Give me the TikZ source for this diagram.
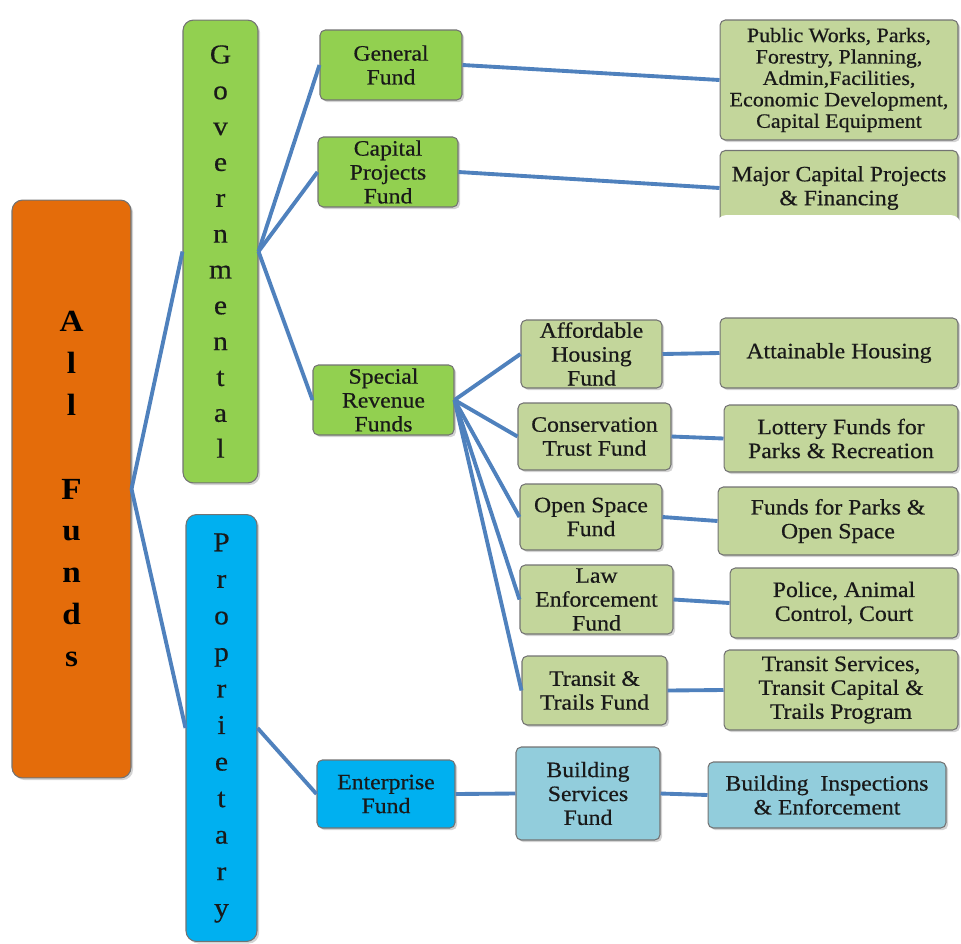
\documentclass[tikz,border=0pt]{standalone}
\usepackage{fontspec}
\setmainfont{Liberation Serif}[FakeStretch=1.08]
\newfontfamily\boxfont{Liberation Serif}[FakeStretch=1.08, FakeBold=0.5]
\usetikzlibrary{shadows}
\definecolor{allorange}{RGB}{228,108,10}
\definecolor{govgreen}{RGB}{146,208,80}
\definecolor{subgreen}{RGB}{195,214,155}
\definecolor{propblue}{RGB}{0,176,240}
\definecolor{subblue}{RGB}{146,205,220}
\definecolor{linkblue}{RGB}{79,129,189}

\begin{document}
\begin{tikzpicture}[
  x=0.02cm, y=-0.02cm,
  every node/.style={font=\boxfont\fontsize{12.5}{13.6}\selectfont, text=black!90},
  box/.style={rectangle, draw=black!55, line width=0.6pt, rounded corners=3pt, align=center, inner sep=0pt, drop shadow={opacity=0.35, shadow xshift=1.2pt, shadow yshift=-1.2pt}},
  fund/.style={box, fill=govgreen},
  sub/.style={box, fill=subgreen},
  ent/.style={box, fill=propblue},
  subb/.style={box, fill=subblue},
  column/.style={box, rounded corners=6pt, font=\boxfont\fontsize{15.5}{20.4}\selectfont},
  link/.style={draw=linkblue, line width=2.2pt}
]
\useasboundingbox (0,0) rectangle (961,944);

% Nodes
\node[column, fill=allorange, minimum width=2.38cm, minimum height=11.56cm, font=\bfseries\fontsize{17.5}{23.8}\selectfont, text=black] (all) at (71.5,489) {A\\l\\l\\\mbox{}\\F\\u\\n\\d\\s};
\node[column, fill=govgreen, minimum width=1.5cm, minimum height=9.26cm] (gov) at (220.5,251.5) {G\\o\\v\\e\\r\\n\\m\\e\\n\\t\\a\\l};
\node[column, fill=propblue, minimum width=1.42cm, minimum height=8.54cm, font=\boxfont\fontsize{15.5}{20.8}\selectfont] (prop) at (221.5,728) {P\\r\\o\\p\\r\\i\\e\\t\\a\\r\\y};

\node[fund, minimum width=2.84cm, minimum height=1.4cm] (general) at (391,65) {General\\Fund};
\node[fund, minimum width=2.8cm, minimum height=1.4cm] (capital) at (388,172) {Capital\\Projects\\Fund};
\node[fund, minimum width=2.82cm, minimum height=1.4cm] (special) at (383.5,400) {Special\\Revenue\\Funds};

\node[sub, minimum width=4.76cm, minimum height=2.4cm, font=\boxfont\fontsize{11.6}{12.2}\selectfont] (works) at (839,80) {Public Works, Parks,\\Forestry, Planning,\\Admin,Facilities,\\Economic Development,\\Capital Equipment};
\node[sub, minimum width=4.76cm, minimum height=1.5cm] (major) at (839,188) {Major Capital Projects\\\& Financing};
\fill[white, rounded corners=6pt] (716,215) rectangle (961,300);

\node[sub, minimum width=2.82cm, minimum height=1.36cm] (afford) at (591.5,354) {Affordable\\Housing\\Fund};
\node[sub, minimum width=3.06cm, minimum height=1.34cm] (conserv) at (594.5,436.5) {Conservation\\Trust Fund};
\node[sub, minimum width=2.84cm, minimum height=1.32cm] (open) at (591,517) {Open Space\\Fund};
\node[sub, minimum width=3.06cm, minimum height=1.38cm] (law) at (596.5,599.5) {Law\\Enforcement\\Fund};
\node[sub, minimum width=2.9cm, minimum height=1.38cm] (trails) at (594.5,690.5) {Transit \&\\Trails Fund};

\node[sub, minimum width=4.76cm, minimum height=1.4cm] (housing) at (839,353) {Attainable Housing};
\node[sub, minimum width=4.68cm, minimum height=1.34cm] (lottery) at (841,438.5) {Lottery Funds for\\Parks \& Recreation};
\node[sub, minimum width=4.8cm, minimum height=1.36cm] (parks) at (838,521) {Funds for Parks \&\\Open Space};
\node[sub, minimum width=4.56cm, minimum height=1.4cm] (police) at (844,603) {Police, Animal\\Control, Court};
\node[sub, minimum width=4.68cm, minimum height=1.6cm] (services) at (841,690) {Transit Services,\\Transit Capital \&\\Trails Program};

\node[ent, minimum width=2.76cm, minimum height=1.36cm] (enterprise) at (386,794) {Enterprise\\Fund};
\node[subb, minimum width=2.88cm, minimum height=1.86cm] (building) at (588,793.5) {Building\\Services\\Fund};
\node[subb, minimum width=4.76cm, minimum height=1.32cm] (inspect) at (827,795) {Building\ \ Inspections\\\& Enforcement};

% Connectors
\draw[link] (all.east) -- (gov.west);
\draw[link] (all.east) -- (prop.west);
\draw[link] (gov.east) -- (general.west);
\draw[link] (gov.east) -- (capital.west);
\draw[link] (gov.east) -- (special.west);
\draw[link] (general.east) -- (works.west);
\draw[link] (capital.east) -- (major.west);
\draw[link] (special.east) -- (afford.west);
\draw[link] (special.east) -- (conserv.west);
\draw[link] (special.east) -- (open.west);
\draw[link] (special.east) -- (law.west);
\draw[link] (special.east) -- (trails.west);
\draw[link] (afford.east) -- (housing.west);
\draw[link] (conserv.east) -- (lottery.west);
\draw[link] (open.east) -- (parks.west);
\draw[link] (law.east) -- (police.west);
\draw[link] (trails.east) -- (services.west);
\draw[link] (prop.east) -- (enterprise.west);
\draw[link] (enterprise.east) -- (building.west);
\draw[link] (building.east) -- (inspect.west);

\end{tikzpicture}
\end{document}
